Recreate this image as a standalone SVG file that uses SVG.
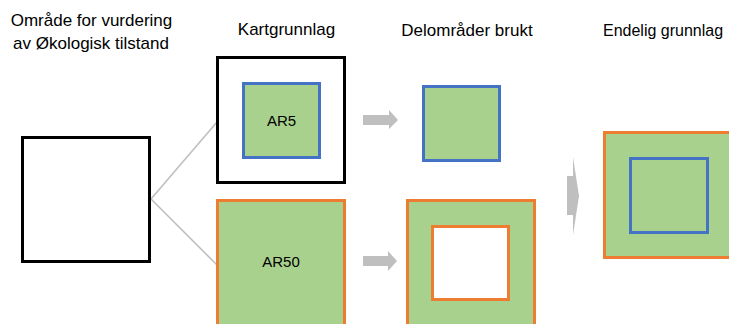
<svg xmlns="http://www.w3.org/2000/svg" width="729" height="324" viewBox="0 0 729 324">
<style>
.t{font-family:"Liberation Sans",Arial,sans-serif;font-size:17px;fill:#000}
.lbl{font-family:"Liberation Sans",Arial,sans-serif;font-size:15px;fill:#000;text-anchor:middle}
.blk{fill:#fff;stroke:#000;stroke-width:3}
.grn{fill:#A9D18E}
.org{stroke:#ED7D31;stroke-width:3}
.blu{stroke:#4472C4;stroke-width:3}
.arr{fill:#BFBFBF}
.con{stroke:#BFBFBF;stroke-width:1.6;fill:none}
</style>
<rect width="729" height="324" fill="#fff"/>
<g id="titles">
<text class="t" x="91.5" y="26" text-anchor="middle">Område for vurdering</text>
<text class="t" x="91" y="49" text-anchor="middle">av Økologisk tilstand</text>
<text class="t" x="286.5" y="35" text-anchor="middle">Kartgrunnlag</text>
<text class="t" x="467" y="36" text-anchor="middle">Delområder brukt</text>
<text class="t" x="603" y="36" style="font-size:16px">Endelig grunnlag</text>
</g>
<g id="connectors">
<line class="con" x1="151" y1="199" x2="217" y2="122"/>
<line class="con" x1="151" y1="199" x2="217" y2="265"/>
<polygon class="arr" points="363,115 389,115 389,110 398,120 389,129 389,125 363,125"/>
<polygon class="arr" points="363,256 388,256 388,251 397,261 388,271 388,266 363,266"/>
<polygon class="arr" points="567,176 573,176 573,157 579,196 573,235 573,215 567,215"/>
</g>
<g id="area">
<rect class="blk" x="22.5" y="137.5" width="127" height="124"/>
</g>
<g id="kart">
<rect class="blk" x="217.5" y="57.5" width="127" height="125"/>
</g>
<g id="ar5">
<rect class="grn blu" x="243.5" y="83.5" width="76" height="74"/>
<text class="lbl" x="281.5" y="126">AR5</text>
</g>
<g id="ar50">
<rect class="grn org" x="217.5" y="200.5" width="127" height="130"/>
<text class="lbl" x="281" y="267">AR50</text>
</g>
<g id="del-ar5">
<rect class="grn blu" x="423.5" y="86.5" width="76" height="74"/>
</g>
<g id="del-ar50">
<rect class="grn org" x="407.5" y="200.5" width="127" height="130"/>
<rect class="org" fill="#fff" x="432.5" y="226.5" width="76" height="73"/>
</g>
<g id="endelig">
<rect class="grn org" x="604.5" y="132.5" width="130" height="125"/>
<rect class="blu" fill="none" x="630.5" y="158.5" width="77" height="74"/>
</g>
</svg>
